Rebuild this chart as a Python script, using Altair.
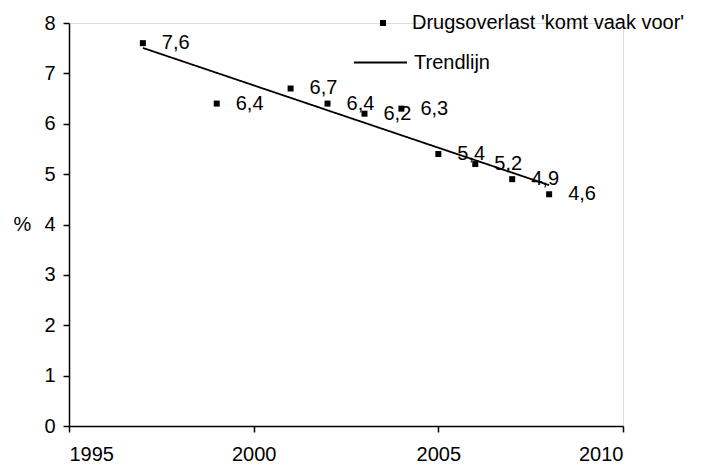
import altair as alt
import pandas as pd

years = [1997, 1999, 2001, 2002, 2003, 2004, 2005, 2006, 2007, 2008]
values = [7.6, 6.4, 6.7, 6.4, 6.2, 6.3, 5.4, 5.2, 4.9, 4.6]
series_points = "Drugsoverlast 'komt vaak voor'"
series_trend = "Trendlijn"
x_ticks = [1995, 2000, 2005, 2010]
y_ticks = [0, 1, 2, 3, 4, 5, 6, 7, 8]

df = pd.DataFrame({"jaar": years, "pct": values, "reeks": series_points})

FONT = "Liberation Sans"
FS = 20

x = alt.X("jaar:Q", scale=alt.Scale(domain=[1995, 2010], nice=False, zero=False),
          axis=alt.Axis(values=x_ticks, format="d", title=None, grid=False,
                        domainColor="black", domainWidth=1.5, tickColor="black",
                        tickWidth=1.5, tickSize=6, labelFontSize=FS, labelFont=FONT,
                        labelColor="black", labelPadding=12))
y = alt.Y("pct:Q", scale=alt.Scale(domain=[0, 8], nice=False),
          axis=alt.Axis(values=y_ticks, title="%", titleAngle=0, titleFontSize=FS,
                        titleFont=FONT, titleFontWeight="normal", titleColor="black",
                        titleX=-47, titleY=201, titleAlign="center", titleBaseline="middle",
                        grid=False, domainColor="black", domainWidth=1.5,
                        tickColor="black", tickWidth=1.5, tickSize=6,
                        labelFontSize=FS, labelFont=FONT, labelColor="black",
                        labelPadding=8))

base = alt.Chart(df)

points = base.mark_point(filled=True, opacity=1, size=36).encode(
    x=x, y=y,
    shape=alt.Shape("reeks:N", scale=alt.Scale(domain=[series_points], range=["square"]),
                    legend=alt.Legend(title=None, orient="none", legendX=304, legendY=-10,
                                      labelFont=FONT, labelFontSize=FS, labelColor="black",
                                      labelLimit=400,
                                      symbolFillColor="black", symbolStrokeColor="black",
                                      symbolStrokeWidth=0,
                                      symbolSize=36, labelOffset=19, padding=0)),
    color=alt.value("black"),
)

labels = base.transform_calculate(
    lab="replace(format(datum.pct, '.1f'), '.', ',')"
).mark_text(align="left", baseline="middle", dx=19, font=FONT, fontSize=FS,
            color="black").encode(x=x, y=y, text="lab:N")

trend = base.transform_regression("jaar", "pct").transform_calculate(
    reeks=f"'{series_trend}'"
).mark_line(color="black", strokeWidth=1.8).encode(
    x=x, y=y,
    strokeDash=alt.StrokeDash("reeks:N", scale=alt.Scale(domain=[series_trend], range=[[1, 0]]),
                              legend=alt.Legend(title=None, orient="none", legendX=284, legendY=12,
                                                labelFont=FONT, labelFontSize=FS,
                                                labelColor="black", symbolStrokeColor="black",
                                                symbolStrokeWidth=1.8, symbolSize=2809,
                                                labelOffset=6, padding=0)),
)

chart = alt.layer(trend, points, labels).resolve_legend(
    shape="independent", strokeDash="independent"
).properties(
    width=554, height=403,
    autosize=alt.AutoSizeParams(type="none"),
    padding={"left": 61, "top": 15, "right": 80, "bottom": 40},
).configure_view(stroke=None).configure(background="white")

chart.save("out.html", embed_options={"renderer": "svg", "actions": False})
